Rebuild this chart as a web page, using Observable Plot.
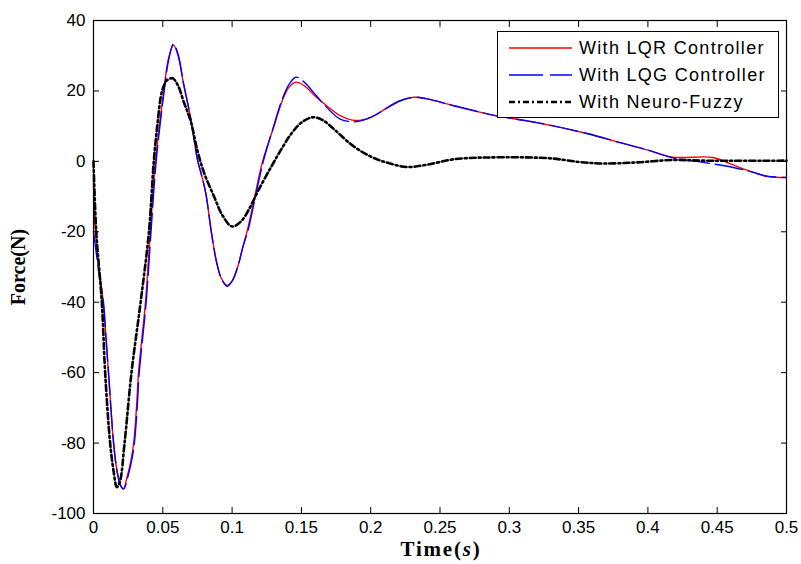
<!DOCTYPE html>
<html><head><meta charset="utf-8">
<script src="https://cdn.jsdelivr.net/npm/d3@7"></script>
<script src="https://cdn.jsdelivr.net/npm/@observablehq/plot@0.6"></script>
<style>
body{margin:0;background:#fff;}
#wrap{position:relative;width:801px;height:564px;overflow:hidden;}
#legend{position:absolute;left:497px;top:31px;width:280px;height:85px;border:1px solid #000;background:#fff;}
.ttl{position:absolute;font-family:"Liberation Serif","Times New Roman",serif;font-weight:bold;color:#000;white-space:nowrap;}
#xt{left:441px;top:549px;transform:translate(-50%,-50%);font-size:21px;letter-spacing:1.8px;}
#yt{left:18px;top:267px;transform:translate(-50%,-50%) rotate(-90deg);font-size:20px;}
</style></head><body>
<div id="wrap">
  <div id="legend"></div>
  <div class="ttl" id="xt">Time(<i>s</i>)</div>
  <div class="ttl" id="yt">Force(N)</div>
</div>
<script>
// tick values
const xTicks = [0, 0.05, 0.1, 0.15, 0.2, 0.25, 0.3, 0.35, 0.4, 0.45, 0.5];
const yTicks = [-100, -80, -60, -40, -20, 0, 20, 40];

// series names
const seriesNames = ["With LQR Controller", "With LQG Controller", "With Neuro-Fuzzy"];

// LQR controller
const lqrTime = [0, 0.001, 0.004, 0.007, 0.009, 0.011, 0.0145, 0.017, 0.0195, 0.0216, 0.024, 0.027, 0.029, 0.031, 0.0325, 0.035, 0.0375, 0.041, 0.0447, 0.0507, 0.054, 0.0577, 0.061, 0.065, 0.07, 0.075, 0.078, 0.081, 0.085, 0.089, 0.092, 0.096, 0.1, 0.104, 0.108, 0.111, 0.115, 0.122, 0.13, 0.136, 0.141, 0.146, 0.152, 0.16, 0.166, 0.178, 0.189, 0.2, 0.209, 0.22, 0.231, 0.24, 0.26, 0.29, 0.32, 0.356, 0.38, 0.4, 0.418, 0.447, 0.46, 0.475, 0.486, 0.5];
const lqrForce = [-5, -18, -30, -40, -50, -61, -80, -88, -92, -93, -90, -85, -80, -70, -60, -50, -40, -20, 0, 20, 29, 33, 30, 22, 12.5, 0.5, -4, -9, -20, -29, -33, -35.2, -34, -30, -24, -19.6, -12.5, 0, 9.7, 17, 21, 22.5, 21.5, 18.5, 16.5, 13, 11.6, 12.5, 14.5, 17, 18.2, 17.8, 15.8, 13, 11, 7.9, 5.3, 3.2, 1.2, 1.1, -0.8, -3, -4.3, -4.6];

// LQG controller
const lqgTime = [0, 0.002, 0.004, 0.0072, 0.009, 0.011, 0.0145, 0.017, 0.0195, 0.0218, 0.0245, 0.0275, 0.0295, 0.0315, 0.033, 0.0355, 0.038, 0.0415, 0.0452, 0.051, 0.0543, 0.0577, 0.061, 0.065, 0.07, 0.075, 0.078, 0.081, 0.085, 0.089, 0.092, 0.0965, 0.1, 0.104, 0.108, 0.1115, 0.1155, 0.1225, 0.13, 0.136, 0.141, 0.146, 0.152, 0.16, 0.166, 0.178, 0.19, 0.2, 0.209, 0.22, 0.231, 0.24, 0.26, 0.29, 0.32, 0.356, 0.38, 0.4, 0.418, 0.44, 0.46, 0.475, 0.486, 0.5];
const lqgForce = [-20, -26, -32, -40, -50, -61, -80, -88, -92, -93, -90, -85, -80, -70, -60, -50, -40, -20, 0, 20, 29, 33.3, 30.5, 22, 12.5, 0.5, -4, -9, -20, -29, -33, -35.5, -34, -30, -24, -19.6, -12.5, 0, 10, 17.5, 21.8, 23.9, 22.5, 19, 16.3, 12, 11.3, 12.5, 14.5, 17, 18.2, 17.8, 15.8, 13, 11, 7.9, 5.3, 3.2, 1.0, -0.3, -1.6, -3, -4.2, -4.6];

// Neuro-Fuzzy
const nfTime = [0, 0.002, 0.006, 0.0084, 0.012, 0.0145, 0.0168, 0.019, 0.0224, 0.0274, 0.034, 0.04, 0.0435, 0.046, 0.0495, 0.053, 0.057, 0.061, 0.065, 0.07, 0.075, 0.08, 0.087, 0.093, 0.1, 0.107, 0.113, 0.119, 0.128, 0.135, 0.143, 0.15, 0.158, 0.165, 0.175, 0.185, 0.195, 0.205, 0.214, 0.226, 0.24, 0.26, 0.284, 0.328, 0.351, 0.368, 0.392, 0.418, 0.44, 0.5];
const nfForce = [0, -20, -40, -60, -80, -88, -92.5, -91, -80, -60, -40, -20, 0, 10, 20, 23, 23.6, 21.5, 17, 11.6, 3, -3.5, -10, -15.3, -18.5, -16.8, -13, -8.2, -1.7, 3.1, 8, 11, 12.5, 11.8, 8.6, 5.1, 2.4, 0.5, -0.6, -1.6, -1, 0.6, 1.1, 0.9, -0.2, -0.6, -0.3, 0.4, 0.2, 0.2];

const toRows = (ts, fs) => ts.map((t, i) => ({t, f: fs[i]}));
const lqr = toRows(lqrTime, lqrForce);
const lqg = toRows(lqgTime, lqgForce);
const nf = toRows(nfTime, nfForce);

const colors = ["#ff0000", "#0000ff", "#000000"];
const dashes = [null, "28,6", "6,3,2,3"];
const widths = [1.4, 1.4, 2.6];

const chart = Plot.plot({
  width: 801, height: 564,
  marginLeft: 93, marginRight: 15, marginTop: 20, marginBottom: 51,
  x: {domain: [0, 0.5]},
  y: {domain: [-100, 40]},
  style: {fontFamily: "'Liberation Sans', Arial, sans-serif", fontSize: "17px", color: "#000", background: "#fff", overflow: "visible"},
  marks: [
    Plot.line(lqr, {x: "t", y: "f", stroke: colors[0], strokeWidth: widths[0], curve: "catmull-rom"}),
    Plot.line(lqg, {x: "t", y: "f", stroke: colors[1], strokeWidth: widths[1], strokeDasharray: dashes[1], curve: "catmull-rom"}),
    Plot.line(nf, {x: "t", y: "f", stroke: colors[2], strokeWidth: widths[2], strokeDasharray: dashes[2], curve: "catmull-rom"}),
    Plot.frame({stroke: "#000", strokeWidth: 1.2}),
    Plot.axisX({ticks: xTicks, tickSize: -6, tickPadding: 13, tickFormat: d => String(d), label: null, fontSize: 17, letterSpacing: 1}),
    Plot.axisX({anchor: "top", ticks: xTicks, tickSize: -6, tickFormat: () => "", label: null}),
    Plot.axisY({ticks: yTicks, tickSize: -6, tickPadding: 14, tickFormat: d => String(d), label: null, fontSize: 17, letterSpacing: 1}),
    Plot.axisY({anchor: "right", ticks: yTicks, tickSize: -6, tickFormat: () => "", label: null})
  ]
});
const wrap = document.getElementById("wrap");
wrap.insertBefore(chart, wrap.firstChild);

// legend
const lg = d3.select("#legend").append("svg").attr("width", 280).attr("height", 85);
const rowsY = [16, 43, 70];
seriesNames.forEach((name, i) => {
  lg.append("line").attr("x1", 11).attr("x2", 74).attr("y1", rowsY[i]).attr("y2", rowsY[i])
    .attr("stroke", colors[i]).attr("stroke-width", widths[i])
    .attr("stroke-dasharray", i === 1 ? "34,7" : dashes[i]);
  lg.append("text").attr("x", 81).attr("y", rowsY[i]).attr("dy", "0.35em")
    .attr("font-family", "'Liberation Sans', Arial, sans-serif").attr("font-size", 18)
    .attr("letter-spacing", 1.3).attr("fill", "#000").text(name);
});
</script>
</body></html>
